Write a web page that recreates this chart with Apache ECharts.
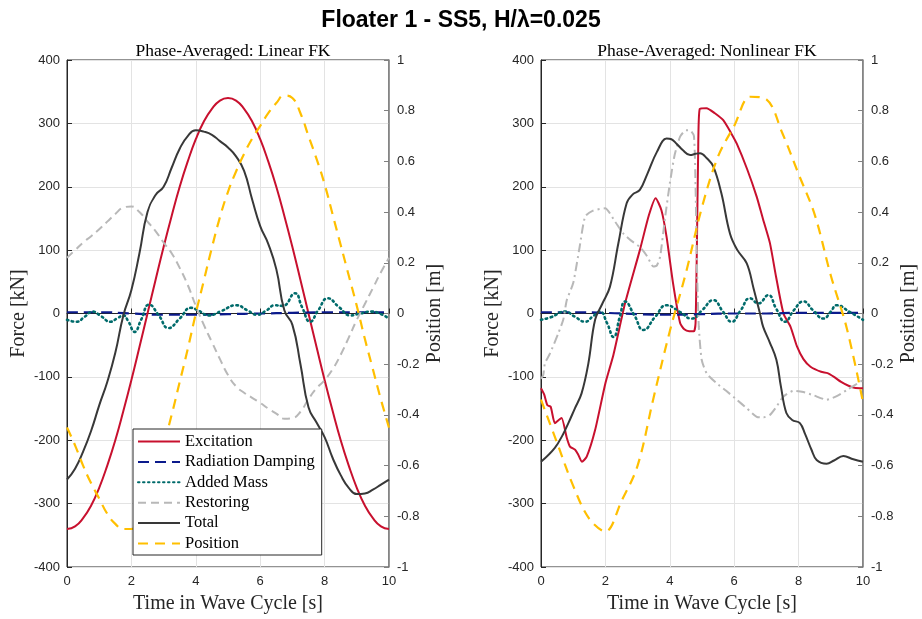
<!DOCTYPE html>
<html><head><meta charset="utf-8">
<script src="https://cdn.jsdelivr.net/npm/echarts@6/dist/echarts.min.js"></script>
<style>html,body{margin:0;padding:0;background:#fff}#c{width:922px;height:619px}</style>
</head><body><div id="c"></div>
<script>
// ---------- Linear FK panel ----------
const tLin = [0,0.25,0.5,0.75,1,1.25,1.5,1.75,2,2.25,2.5,2.75,3,3.25,3.5,3.75,4,4.25,4.5,4.75,5,5.25,5.5,5.75,6,6.25,6.5,6.75,7,7.25,7.5,7.75,8,8.25,8.5,8.75,9,9.25,9.5,9.75,10];
const excLin = [-340,-336,-323,-303,-275,-240,-200,-154,-105,-53,0,53,105,154,200,240,275,303,323,336,340,336,323,303,275,240,200,154,105,53,0,-53,-105,-154,-200,-240,-275,-303,-323,-336,-340];
const posLin = [-0.45,-0.52,-0.6,-0.67,-0.73,-0.79,-0.83,-0.85,-0.85,-0.8,-0.72,-0.63,-0.52,-0.4,-0.27,-0.14,0,0.13,0.26,0.38,0.48,0.56,0.63,0.69,0.74,0.79,0.83,0.86,0.85,0.79,0.7,0.61,0.51,0.39,0.27,0.15,0.03,-0.1,-0.22,-0.34,-0.45];
const resLin = [88,100,112,122,133,145,157,167,169,160,145,130,112,95,72,45,12,-18,-45,-72,-97,-115,-125,-133,-141,-150,-158,-166,-165,-155,-135,-118,-105,-88,-65,-38,-10,15,40,65,88];
const totLin = [-262,-245,-218,-185,-145,-108,-62,-3,37,95,160,187,200,230,260,280,289,287,282,272,262,248,225,180,138,110,70,5,-18,-80,-148,-172,-195,-228,-255,-275,-285,-284,-278,-270,-262];
const tAmLin = [0,0.3,0.55,0.8,1.05,1.35,1.55,1.75,1.9,2.1,2.3,2.55,2.85,3.15,3.5,3.85,4.1,4.4,4.8,5.25,5.6,5.9,6.2,6.45,6.7,7.08,7.3,7.55,7.8,8.1,8.45,8.8,9.1,9.45,9.75,10];
const amLin = [-10,-13,-5,3,-4,-13,-8,-3,-12,-29,-10,14,-3,-23,-8,9,4,-3,4,13,5,-2,5,13,12,32,10,-13,5,24,10,-3,0,3,-1,-8];
const tRad = [0,1,2,3,4,5,6,7,8,9,10];
const radLin = [2,2,0,-2,-2,-1,0,1,2,2,2];

// ---------- Nonlinear FK panel ----------
const tExcNon = [0,0.1,0.2,0.3,0.43,0.55,0.64,0.8,0.9,1.06,1.15,1.27,1.42,1.68,2.0,2.25,2.61,3.07,3.35,3.56,3.74,3.9,4.1,4.32,4.45,4.6,4.75,4.8,4.84,4.88,4.93,5.14,5.4,5.66,5.9,6.08,6.4,6.7,6.9,7.11,7.3,7.53,7.75,7.95,8.15,8.37,8.7,8.9,9.1,9.32,9.55,9.73,10];
const excNon = [-118,-128,-145,-147,-173,-168,-165,-196,-210,-215,-222,-234,-226,-184,-110,-65,16,100,155,182,163,121,48,-15,-25,-28,-28,-15,100,250,323,324,316,305,285,268,228,184,148,111,58,0,-21,-52,-72,-84,-92,-94,-100,-108,-114,-117,-118];
const tResNon = [0,0.07,0.12,0.28,0.54,0.69,0.8,1.0,1.2,1.37,1.6,1.99,2.3,2.56,2.8,3.07,3.3,3.49,3.6,3.7,3.85,4.0,4.15,4.32,4.5,4.63,4.75,4.8,4.85,4.9,4.99,5.15,5.45,5.75,6.08,6.4,6.7,6.9,7.11,7.3,7.53,7.85,8.15,8.46,8.87,9.2,9.49,10];
const resNon = [-103,-97,-79,-63,-31,-10,21,48,105,153,162,166,145,126,115,105,90,74,76,90,150,205,250,279,289,289,280,200,60,-20,-73,-95,-110,-122,-136,-150,-163,-164,-160,-148,-131,-122,-124,-129,-136,-130,-121,-105];
const tTotNon = [0,0.43,0.69,0.85,1.05,1.26,1.47,1.68,1.9,2.14,2.4,2.66,2.85,3.07,3.3,3.6,3.9,4.05,4.21,4.4,4.63,4.8,4.94,5.15,5.35,5.6,5.87,6.1,6.39,6.6,6.8,6.9,7.1,7.31,7.45,7.62,7.8,8.04,8.2,8.4,8.56,8.87,9.1,9.39,9.7,10];
const totNon = [-234,-212,-190,-173,-150,-126,-79,-10,15,42,110,174,188,195,220,255,276,275,268,258,250,252,253,245,232,190,126,100,79,40,0,-21,-45,-73,-115,-157,-168,-173,-190,-215,-231,-237,-232,-225,-230,-234];
const tPosNon = [0,0.5,1,1.5,2,2.5,3,3.5,4,4.5,5,5.5,6,6.5,7,7.5,8,8.5,9,9.5,10];
const posNon = [-0.34,-0.51,-0.68,-0.81,-0.86,-0.74,-0.6,-0.33,-0.07,0.16,0.42,0.62,0.74,0.855,0.845,0.71,0.55,0.39,0.15,-0.06,-0.35];
const tAmNon = [0,0.3,0.75,1.05,1.37,1.6,1.83,2.05,2.25,2.45,2.61,2.9,3.18,3.55,3.9,4.3,4.68,5.0,5.35,5.65,5.92,6.2,6.49,6.75,7.06,7.3,7.58,7.85,8.15,8.45,8.77,9.0,9.18,9.6,10];
const amNon = [-10,-6,3,-5,-13,-5,3,-15,-37,-5,19,-3,-26,-5,13,3,-8,5,21,3,-13,5,24,16,29,8,-13,5,19,5,-8,3,13,2,-10];
const radNon = [2,2,1,-1,-2,-1,0,0,1,1,1];

// ---------- labels ----------
const mainTitle = 'Floater 1 - SS5, H/λ=0.025';
const panelTitles = ['Phase-Averaged: Linear FK', 'Phase-Averaged: Nonlinear FK'];
const seriesNames = ['Excitation','Radiation Damping','Added Mass','Restoring','Total','Position'];
const xName = 'Time in Wave Cycle [s]';
const yLeftName = 'Force [kN]';
const yRightName = 'Position [m]';

const zip = (t, v) => t.map((x, i) => [x, v[i]]);

const C = {exc:'#c8102e', rad:'#0b1a8c', am:'#006b6b', res:'#b8b8b8', tot:'#383838', pos:'#ffbf00'};
const serifF = 'Liberation Serif, Times New Roman, serif';
const sansF = 'Liberation Sans, Arial, sans-serif';

function mk(name, data, xi, yi, color, type, width, smooth) {
  return {
    name, type:'line', data, xAxisIndex:xi, yAxisIndex:yi, symbol:'none', showSymbol:false,
    smooth: smooth, animation:false, clip:true,
    lineStyle:{color, width, type, cap: (Array.isArray(type) && type[0] <= 2) ? 'round' : 'butt'},
    itemStyle:{color}
  };
}

const series = [
  mk(seriesNames[0], zip(tLin, excLin), 0, 0, C.exc, 'solid', 2, 0.5),
  mk(seriesNames[1], zip(tRad, radLin), 0, 0, C.rad, [11,6], 2.2, 0.5),
  mk(seriesNames[2], zip(tAmLin, amLin), 0, 0, C.am, [1.5,3.5], 2.6, 0.5),
  mk(seriesNames[3], zip(tLin, resLin), 0, 0, C.res, [8,5], 2, 0.5),
  mk(seriesNames[4], zip(tLin, totLin), 0, 0, C.tot, 'solid', 2, 0.5),
  mk(seriesNames[5], zip(tLin, posLin), 0, 1, C.pos, [10,7], 2.2, 0.5),

  mk(seriesNames[0], zip(tExcNon, excNon), 1, 2, C.exc, 'solid', 2, 0.2),
  mk(seriesNames[1], zip(tRad, radNon), 1, 2, C.rad, [11,6], 2.2, 0.5),
  mk(seriesNames[2], zip(tAmNon, amNon), 1, 2, C.am, [1.5,3.5], 2.6, 0.5),
  mk(seriesNames[3], zip(tResNon, resNon), 1, 2, C.res, [9,4,2,4], 2, 0.2),
  mk(seriesNames[4], zip(tTotNon, totNon), 1, 2, C.tot, 'solid', 2, 0.4),
  mk(seriesNames[5], zip(tPosNon, posNon), 1, 3, C.pos, [10,7], 2.2, 0.35)
];

const axLabel = {color:'#262626', fontFamily:sansF, fontSize:13};
function xAx(gi) {
  return {type:'value', gridIndex:gi, min:0, max:10, interval:2,
    name:xName, nameLocation:'middle', nameGap:27,
    nameTextStyle:{fontFamily:serifF, fontSize:20, color:'#262626'},
    axisLine:{lineStyle:{color:'#262626', width:1}},
    axisTick:{inside:true, length:5, lineStyle:{color:'#262626'}},
    axisLabel:Object.assign({margin:8}, axLabel),
    splitLine:{show:true, lineStyle:{color:'#e3e3e3', width:1}}};
}
function yL(gi) {
  return {type:'value', gridIndex:gi, min:-400, max:400, interval:100, position:'left',
    name:yLeftName, nameLocation:'middle', nameGap:38, nameRotate:90,
    nameTextStyle:{fontFamily:serifF, fontSize:20, color:'#262626'},
    axisLine:{show:true, onZero:false, lineStyle:{color:'#262626', width:1}},
    axisTick:{show:true, inside:true, length:5, lineStyle:{color:'#262626'}},
    axisLabel:Object.assign({margin:7}, axLabel),
    splitLine:{show:true, lineStyle:{color:'#e3e3e3', width:1}}};
}
function yR(gi) {
  return {type:'value', gridIndex:gi, min:-1, max:1, interval:0.2, position:'right',
    name:yRightName, nameLocation:'middle', nameGap:36, nameRotate:90,
    nameTextStyle:{fontFamily:serifF, fontSize:20, color:'#262626'},
    axisLine:{show:true, onZero:false, lineStyle:{color:'#808080', width:1.5}},
    axisTick:{show:true, inside:true, length:5, lineStyle:{color:'#808080'}},
    axisLabel:Object.assign({margin:8, formatter:v => String(Math.round(v*10)/10)}, axLabel),
    splitLine:{show:false}};
}

const chart = echarts.init(document.getElementById('c'), null, {renderer:'canvas'});
chart.setOption({
  backgroundColor:'#ffffff',
  animation:false,
  title:[
    {text:mainTitle, left:'center', top:4, textStyle:{fontFamily:sansF, fontWeight:'bold', fontSize:23, color:'#000'}},
    {text:panelTitles[0], left:228, textAlign:'center', top:37, textStyle:{fontFamily:serifF, fontWeight:'normal', fontSize:17.5, color:'#000'}},
    {text:panelTitles[1], left:702, textAlign:'center', top:37, textStyle:{fontFamily:serifF, fontWeight:'normal', fontSize:17.5, color:'#000'}}
  ],
  grid:[
    {left:67, top:60, width:322, height:507, show:true, borderColor:'#262626', borderWidth:1, backgroundColor:'transparent'},
    {left:541, top:60, width:322, height:507, show:true, borderColor:'#262626', borderWidth:1, backgroundColor:'transparent'}
  ],
  xAxis:[xAx(0), xAx(1)],
  yAxis:[yL(0), yR(0), yL(1), yR(1)],
  legend:{
    data:seriesNames, orient:'vertical', left:133, top:429,
    itemWidth:42, itemHeight:16, itemGap:3.4,
    padding:[4,7,3,4],
    itemStyle:{opacity:0},
    backgroundColor:'#ffffff', borderColor:'#262626', borderWidth:1, borderRadius:0,
    textStyle:{fontFamily:serifF, fontSize:16.5, color:'#000', lineHeight:17},
    selectedMode:false
  },
  series
});
</script></body></html>
